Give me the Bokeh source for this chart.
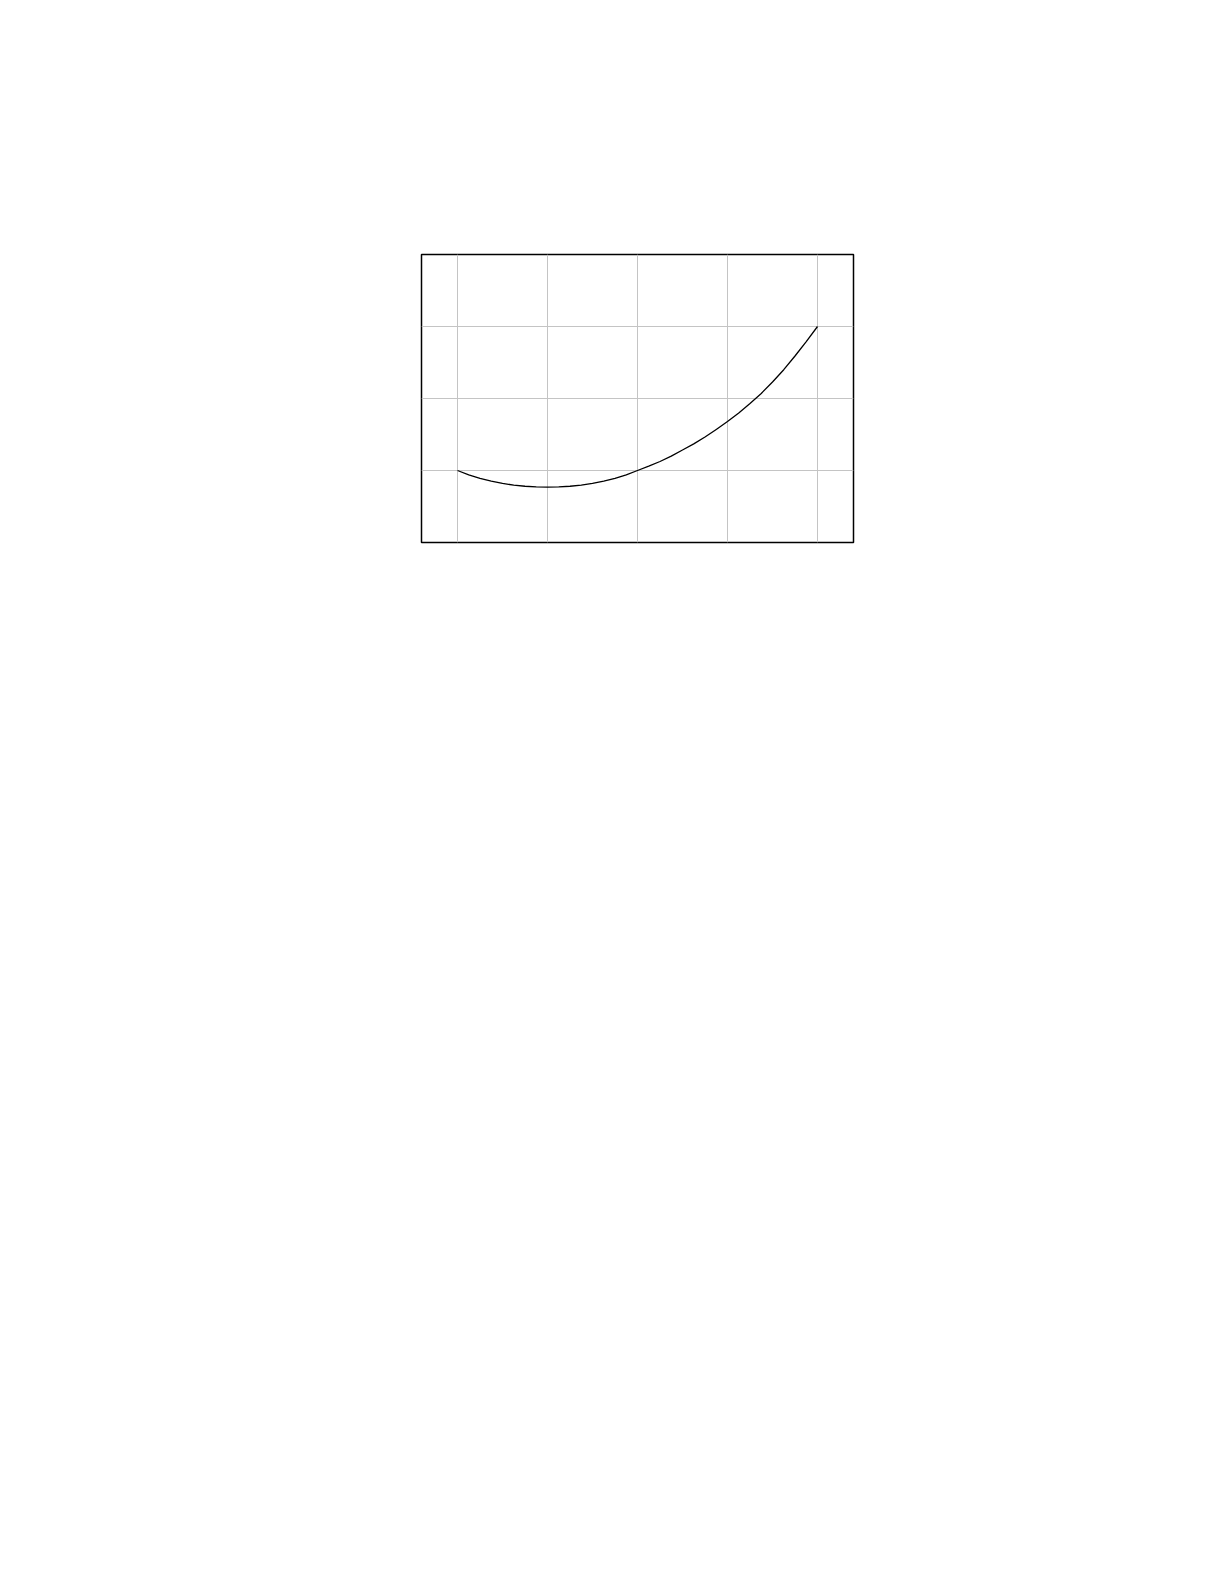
from bokeh.plotting import figure
from bokeh.models import Range1d, FixedTicker
from bokeh.embed import file_html
from bokeh.resources import INLINE

x_values = [0, 0.125, 0.25, 0.375, 0.5, 0.625, 0.75, 0.875, 1.0, 1.125, 1.25, 1.375, 1.5,
            1.625, 1.75, 1.875, 2.0, 2.125, 2.25, 2.375, 2.5, 2.625, 2.75, 2.875, 3.0,
            3.125, 3.25, 3.375, 3.5, 3.625, 3.75, 3.875, 4.0]
y_values = [1.0, 0.94, 0.89, 0.853, 0.82, 0.797, 0.781, 0.772, 0.77, 0.772, 0.781, 0.797, 0.82,
            0.853, 0.89, 0.94, 1.0, 1.06, 1.125, 1.20, 1.285, 1.37, 1.465, 1.57, 1.68,
            1.80, 1.93, 2.07, 2.23, 2.40, 2.59, 2.79, 3.0]
x_ticks = [0, 1, 2, 3, 4]
y_ticks = [0, 1, 2, 3, 4]

p = figure(width=421 + 432 + 20, height=254 + 288 + 20,
           x_range=Range1d(-0.4, 4.4), y_range=Range1d(0, 4),
           output_backend="svg", toolbar_location=None,
           min_border_left=421, min_border_top=254,
           min_border_right=20, min_border_bottom=20)

p.xaxis.ticker = FixedTicker(ticks=x_ticks)
p.yaxis.ticker = FixedTicker(ticks=y_ticks)
p.xaxis.visible = False
p.yaxis.visible = False
p.xgrid.ticker = FixedTicker(ticks=x_ticks)
p.ygrid.ticker = FixedTicker(ticks=y_ticks)
p.grid.grid_line_color = "#c4c4c4"
p.grid.grid_line_width = 1
p.grid.grid_line_alpha = 1.0

p.outline_line_color = "black"
p.outline_line_width = 1.5
p.outline_line_alpha = 1.0
p.background_fill_color = "white"
p.border_fill_color = "white"

p.line(x_values, y_values, line_color="black", line_width=1.3, line_join="round")

open("out.html", "w").write(file_html(p, INLINE))
